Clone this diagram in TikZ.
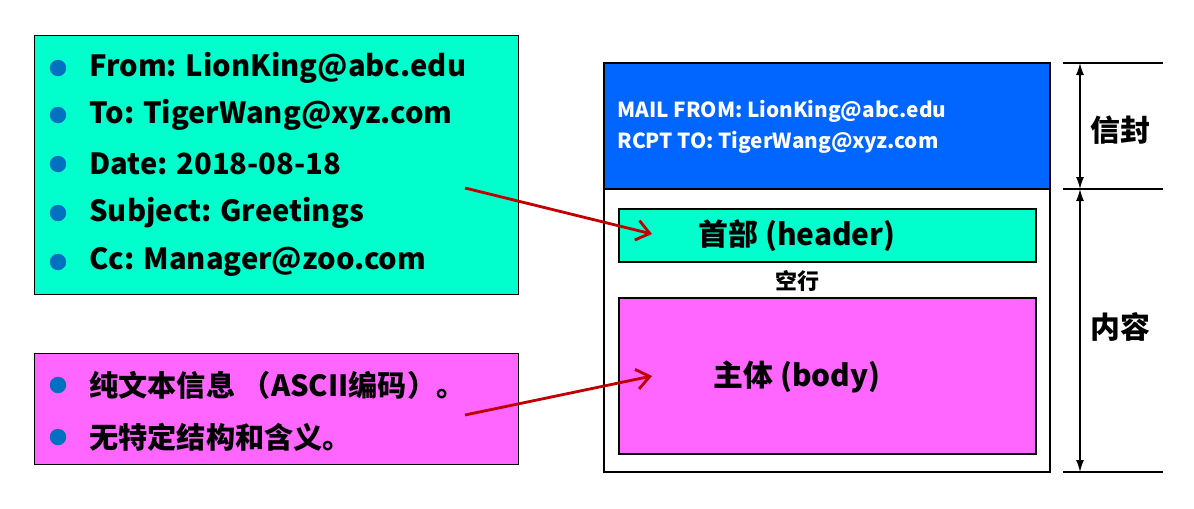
\documentclass[tikz,border=0pt]{standalone}
\usepackage{fontspec}
\setmainfont{Noto Sans CJK SC}
\usetikzlibrary{arrows.meta}
\definecolor{headcyan}{RGB}{0,255,204}
\definecolor{bodypink}{RGB}{255,102,255}
\definecolor{envblue}{RGB}{0,102,255}
\definecolor{dotblue}{RGB}{0,112,192}
\definecolor{arrowred}{RGB}{192,0,0}
\tikzset{
  panel/.style={draw,rectangle,thin,inner sep=0pt},
  part/.style={draw,rectangle,line width=1.2pt,inner sep=0pt},
  item/.style={anchor=west,inner sep=0pt,font=\fontsize{16.6}{18}\selectfont\bfseries},
  dot/.style={circle,fill=dotblue,inner sep=0pt,minimum size=0.33cm},
  pointer/.style={->,>={Straight Barb[length=2.6mm,width=4mm]},arrowred,line width=1.6pt},
  span/.style={{Latex[length=2.4mm,width=1.6mm]}-{Latex[length=2.4mm,width=1.6mm]},line width=0.8pt}
}
\begin{document}
\begin{tikzpicture}[x=0.02cm,y=-0.02cm]
  \useasboundingbox (0,0) rectangle (1194,508);
  % left: the two explanation panels
  \node (hdrlist) [panel,fill=headcyan,minimum width=9.68cm,minimum height=5.18cm] at (276,164.5) {};
  \node (bodylist) [panel,fill=bodypink,minimum width=9.68cm,minimum height=2.22cm] at (276,408.5) {};
  \foreach \y/\txt [count=\i] in {68/{From: LionKing@abc.edu},115/{To: TigerWang@xyz.com},
      164/{Date: 2018-08-18},213/{Subject: Greetings},262/{Cc: Manager@zoo.com}} {
    \node (hdot\i) [dot] at (58,\y) {};
    \node (hline\i) [item] at (89,\y) {\txt};
  }
  \foreach \y/\txt [count=\i] in {385/{纯文本信息 （ASCII编码）。},437/{无特定结构和含义。}} {
    \node (bdot\i) [dot] at (58,\y) {};
    \node (bline\i) [item] at (89,\y) {\txt};
  }
  % right: the mail itself
  \node (mail) [part,minimum width=8.92cm,minimum height=8.18cm] at (827,267.5) {};
  \node (envelope) [part,fill=envblue,minimum width=8.92cm,minimum height=2.52cm] at (827,126) {};
  \node (envtext) [anchor=west,align=left,inner sep=0pt,text=white,font=\fontsize{11.8}{17.5}\selectfont\bfseries] at (617,127)
    {MAIL FROM: LionKing@abc.edu\\RCPT TO: TigerWang@xyz.com};
  \node (header) [part,fill=headcyan,minimum width=8.34cm,minimum height=1.06cm] at (827.5,235.5) {};
  \node (headtext) [font=\fontsize{17}{20}\selectfont\bfseries] at (797,236) {首部 (header)};
  \node (blank) [font=\fontsize{12.5}{14}\selectfont\bfseries] at (797,281) {空行};
  \node (body) [part,fill=bodypink,minimum width=8.34cm,minimum height=3.12cm] at (827.5,376) {};
  \node (bodytext) [font=\fontsize{17}{20}\selectfont\bfseries] at (797,377) {主体 (body)};
  % dimension marks
  \coordinate (t1) at (1063,63);  \coordinate (t1e) at (1163,63);
  \coordinate (t2) at (1063,189); \coordinate (t2e) at (1163,189);
  \coordinate (t3) at (1063,472); \coordinate (t3e) at (1163,472);
  \coordinate (a1) at (1080,63);  \coordinate (a2) at (1080,189); \coordinate (a3) at (1080,472);
  \draw[line width=0.8pt] (t1) -- (t1e);
  \draw[line width=0.8pt] (t2) -- (t2e);
  \draw[line width=0.8pt] (t3) -- (t3e);
  \draw[span] (a1) -- (a2);
  \draw[span] (a2) -- (a3);
  \node (envlabel) [font=\fontsize{17}{20}\selectfont\bfseries] at (1120,130) {信封};
  \node (contlabel) [font=\fontsize{17}{20}\selectfont\bfseries] at (1120,327) {内容};
  % pointers
  \coordinate (p1) at (465,188); \coordinate (q1) at (652,234);
  \coordinate (p2) at (465,415); \coordinate (q2) at (652,376);
  \draw[pointer] (p1) -- (q1);
  \draw[pointer] (p2) -- (q2);
\end{tikzpicture}
\end{document}
